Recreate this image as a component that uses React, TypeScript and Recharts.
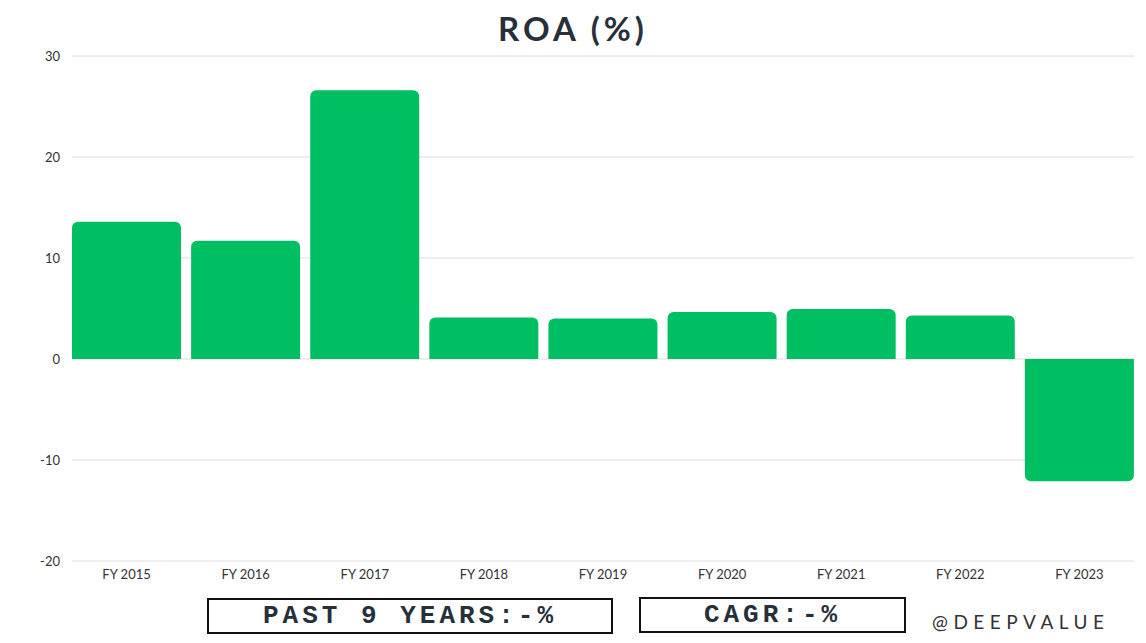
import React from "react";
import { BarChart, Bar, XAxis, YAxis, CartesianGrid } from "recharts";

// ROA by fiscal year
const years = ["FY 2015", "FY 2016", "FY 2017", "FY 2018", "FY 2019", "FY 2020", "FY 2021", "FY 2022", "FY 2023"];
const roa = [13.6, 11.7, 26.6, 4.1, 4.0, 4.65, 4.95, 4.3, -12.1];
const yTicks = [-20, -10, 0, 10, 20, 30];

const data = years.map((year, i) => ({ year, roa: roa[i] }));

const boxText: React.CSSProperties = {
    position: "absolute",
    border: "2px solid #111",
    display: "flex",
    alignItems: "center",
    justifyContent: "center",
    fontFamily: "'Liberation Mono', monospace",
    fontWeight: 700,
    fontSize: 26,
    letterSpacing: 4,
    color: "#25303a",
};

export default function App() {
    return (
        <div style={{ position: "fixed", left: 0, top: 0, width: 1146, height: 643, background: "#fff", fontFamily: "Lato, sans-serif" }}>
            <div
                style={{
                    position: "absolute",
                    top: 8,
                    left: 0,
                    width: 1146,
                    textAlign: "center",
                    fontSize: 33,
                    fontWeight: 700,
                    letterSpacing: 4,
                    color: "#25303a",
                }}
            >
                ROA (%)
            </div>

            <BarChart
                width={1146}
                height={590}
                data={data}
                margin={{ top: 56, right: 12, left: 0, bottom: 0 }}
                barCategoryGap={5}
            >
                <CartesianGrid vertical={false} stroke="#dcdcdc" />
                <XAxis
                    dataKey="year"
                    axisLine={false}
                    tickLine={false}
                    tick={{ fill: "#333", fontSize: 13 }}
                    height={29}
                    tickMargin={3}
                    padding={{ left: -5, right: -5 }}
                    interval={0}
                />
                <YAxis
                    axisLine={false}
                    tickLine={false}
                    tick={{ fill: "#333", fontSize: 13 }}
                    domain={[-20, 30]}
                    ticks={yTicks}
                    width={72}
                    tickMargin={6}
                />
                <Bar dataKey="roa" fill="#00bf63" radius={[6, 6, 0, 0]} isAnimationActive={false} />
            </BarChart>

            {/* footer */}
            <div style={{ ...boxText, left: 207, top: 598, width: 402, height: 32 }}>PAST 9 YEARS:-%</div>
            <div style={{ ...boxText, left: 639, top: 597, width: 263, height: 32 }}>CAGR:-%</div>
            <div
                style={{
                    position: "absolute",
                    left: 932,
                    top: 610,
                    fontSize: 19,
                    letterSpacing: 5.5,
                    color: "#333",
                }}
            >
                @DEEPVALUE
            </div>
        </div>
    );
}
